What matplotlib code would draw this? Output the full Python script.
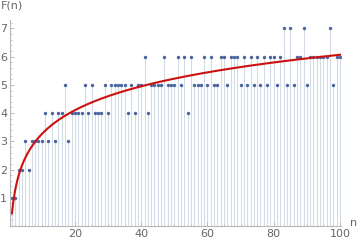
import numpy as np
import matplotlib
matplotlib.use("Agg")
import matplotlib.pyplot as plt
from matplotlib.ticker import MultipleLocator

n_values = list(range(1, 101))
f_values = [1, 1, 2, 2, 3, 2, 3, 3, 3, 3,
            4, 3, 4, 3, 4, 4, 5, 3, 4, 4,
            4, 4, 5, 4, 5, 4, 4, 4, 5, 4,
            5, 5, 5, 5, 5, 4, 5, 4, 5, 5,
            6, 4, 5, 5, 5, 5, 6, 5, 5, 5,
            6, 5, 6, 4, 6, 5, 5, 5, 6, 5,
            6, 5, 5, 6, 6, 5, 6, 6, 6, 5,
            6, 5, 6, 5, 6, 5, 6, 5, 6, 6,
            5, 6, 7, 5, 7, 5, 6, 6, 7, 5,
            6, 6, 6, 6, 6, 6, 7, 5, 6, 6]
x_ticks = [20, 40, 60, 80, 100]
y_ticks = [1, 2, 3, 4, 5, 6, 7]

# fitted model curve: F(n) ~ fit_a + fit_b * log(n)
fit_a = 0.45
fit_b = 1.22

n = np.array(n_values, dtype=float)
f = np.array(f_values, dtype=float)

xs = np.linspace(1, 100, 400)
ys = fit_a + fit_b * np.log(xs)

fig = plt.figure(figsize=(3.6, 2.42), dpi=100)
ax = fig.add_axes([10/360, 16/242, 331/360, 206/242])

stem_color = "#d3dbe7"
pt_color = "#4a64a0"
axis_color = "#b8b8b8"
text_color = "#666666"

ax.vlines(n, 0, f, colors=stem_color, linewidth=0.8, zorder=1)
ax.scatter(n, f, s=6, color=pt_color, zorder=3, linewidths=0)
ax.plot(xs, ys, color="#cc1111", linewidth=1.5, zorder=4)

ax.set_xlim(0.4, 100.3)
ax.set_ylim(0, 7.3)

for s in ["top", "right"]:
    ax.spines[s].set_visible(False)
for s in ["left", "bottom"]:
    ax.spines[s].set_color(axis_color)
    ax.spines[s].set_linewidth(0.8)

ax.set_xticks(x_ticks)
ax.set_yticks(y_ticks)
ax.xaxis.set_minor_locator(MultipleLocator(5))
ax.yaxis.set_minor_locator(MultipleLocator(0.2))
ax.tick_params(axis="both", which="major", colors=axis_color, labelcolor=text_color,
               labelsize=8, length=3, width=0.7, direction="in")
ax.tick_params(axis="both", which="minor", colors=axis_color, length=1.5, width=0.5,
               direction="in")
ax.tick_params(axis="y", pad=2)
ax.tick_params(axis="x", pad=2)

fig.text(1/360, 1 - 6/242, "F(n)", fontsize=8, color=text_color, va="center", ha="left")
fig.text(350/360, 1 - 223/242, "n", fontsize=8, color=text_color, va="center", ha="left")

fig.savefig("out.png", dpi=100)
